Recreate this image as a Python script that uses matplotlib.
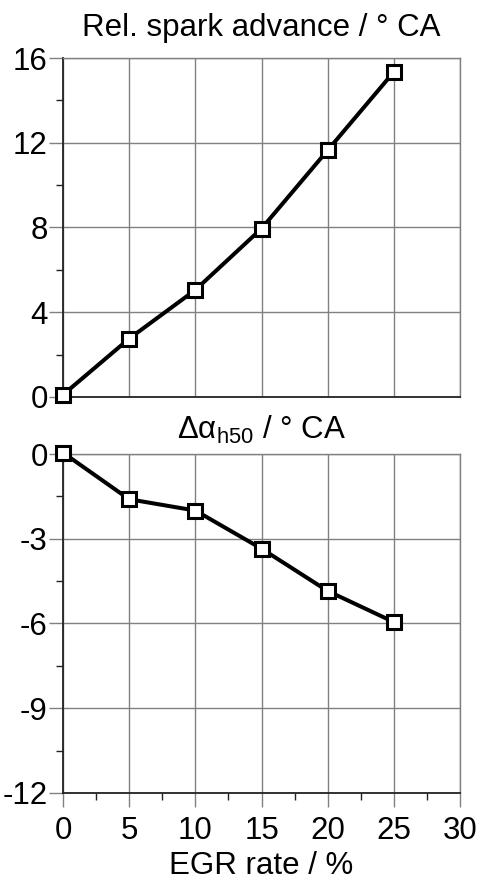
import matplotlib.pyplot as plt
from matplotlib.ticker import MultipleLocator

plt.rcParams['font.family'] = ['Liberation Sans', 'DejaVu Sans']
plt.rcParams['axes.unicode_minus'] = False
plt.rcParams['mathtext.fontset'] = 'custom'
plt.rcParams['mathtext.rm'] = 'Liberation Sans'
plt.rcParams['mathtext.it'] = 'Liberation Sans'

# data
egr = [0, 5, 10, 15, 20, 25]
spark_adv = [0.1, 2.75, 5.05, 7.95, 11.65, 15.35]
d_alpha_h50 = [0.05, -1.6, -2.0, -3.35, -4.85, -5.95]

FS = 22.5

fig = plt.figure(figsize=(4.79, 8.8), dpi=100)
ax1 = fig.add_axes([0.1315, 0.549, 0.829, 0.385])
ax2 = fig.add_axes([0.1315, 0.099, 0.829, 0.385])

def style(ax, ymin, ymax, ystep, show_x):
    ax.set_xlim(0, 30)
    ax.set_ylim(ymin, ymax)
    ax.xaxis.set_major_locator(MultipleLocator(5))
    ax.yaxis.set_major_locator(MultipleLocator(ystep))
    ax.yaxis.set_minor_locator(MultipleLocator(ystep / 2))
    ax.grid(True, which='major', color='#808080', linewidth=1.0)
    ax.set_axisbelow(True)
    for s in ['top', 'right']:
        ax.spines[s].set_color('#808080')
        ax.spines[s].set_linewidth(1.0)
    for s in ['left', 'bottom']:
        ax.spines[s].set_color('#222222')
        ax.spines[s].set_linewidth(1.3)
    ax.tick_params(axis='y', which='major', length=10, width=1, color='#808080',
                   labelsize=FS, pad=1)
    ax.tick_params(axis='y', which='minor', length=5, width=1, color='#222222')
    if show_x:
        ax.xaxis.set_minor_locator(MultipleLocator(2.5))
        ax.tick_params(axis='x', which='major', length=10, width=1, color='#808080',
                       labelsize=FS, pad=7)
        ax.tick_params(axis='x', which='minor', length=5, width=1, color='#222222')
    else:
        ax.tick_params(axis='x', which='both', length=0, labelbottom=False)

ax1.plot(egr, spark_adv, color='black', linewidth=2.9, marker='s', markersize=9.5,
         markerfacecolor='white', markeredgecolor='black', markeredgewidth=2.2, clip_on=False, zorder=5)
style(ax1, 0, 16, 4, False)
ax1.set_title('Rel. spark advance / ° CA', fontsize=FS, pad=16)

ax2.plot(egr, d_alpha_h50, color='black', linewidth=2.9, marker='s', markersize=9.5,
         markerfacecolor='white', markeredgecolor='black', markeredgewidth=2.2, clip_on=False, zorder=5)
style(ax2, -12, 0, 3, True)
ax2.set_title(r'Δα$_{\mathregular{h50}}$ / ° CA', fontsize=FS, pad=11)
ax2.set_xlabel('EGR rate / %', fontsize=FS, labelpad=3)

fig.savefig('out.png', dpi=100)
